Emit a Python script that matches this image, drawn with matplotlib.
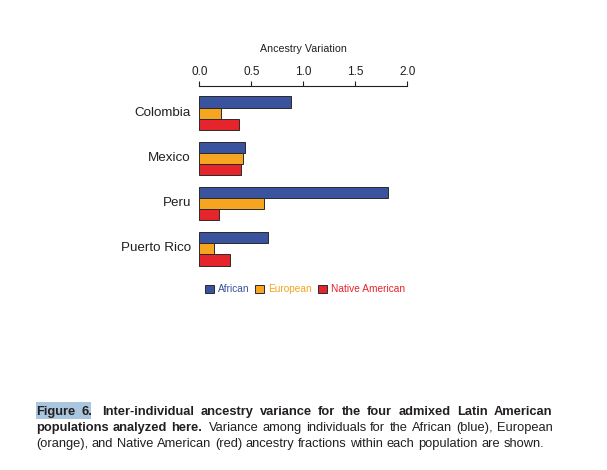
import numpy as np
import matplotlib
matplotlib.use('Agg')
from matplotlib import pyplot as plt
from matplotlib.patches import Rectangle, Patch

plt.rcParams['font.family'] = ['Liberation Sans', 'DejaVu Sans']

populations = ['Colombia', 'Mexico', 'Peru', 'Puerto Rico']
african = [0.88, 0.44, 1.81, 0.66]
european = [0.21, 0.42, 0.62, 0.14]
native = [0.385, 0.40, 0.19, 0.295]
series_names = ['African', 'European', 'Native American']
colors = ['#3a539e', '#f5a51f', '#e5242b']
xticks = [0.0, 0.5, 1.0, 1.5, 2.0]

W, H = 607, 470
fig = plt.figure(figsize=(W / 100, H / 100), dpi=100)

# axes placed in pixel terms
left, right, top, bottom = 199.3, 407.3, 85.7, 268.0
ax = fig.add_axes([left / W, 1 - bottom / H, (right - left) / W, (bottom - top) / H])

ypos = np.arange(len(populations))
bh = 0.25
for k, vals in enumerate([african, european, native]):
    ax.barh(ypos + (k - 1) * bh, vals, height=bh, color=colors[k],
            edgecolor='#2a2a2a', linewidth=0.7, label=series_names[k])

ax.set_xlim(0, 2.0)
ax.set_ylim(3.43, -0.613)
ax.set_yticks(ypos - 0.05)
ax.set_yticklabels(populations, fontsize=9.6, color='#231f20')
ax.tick_params(axis='y', length=0, pad=6)
ax.xaxis.tick_top()
ax.xaxis.set_label_position('top')
ax.set_xticks(xticks)
ax.set_xticklabels(['%.1f' % t for t in xticks], fontsize=8.5, color='#231f20')
ax.tick_params(axis='x', direction='out', length=3.6, width=0.8, pad=2.2, color='#231f20')
ax.set_xlabel('Ancestry Variation', fontsize=7.7, labelpad=10, color='#231f20')
for s in ['left', 'right', 'bottom']:
    ax.spines[s].set_visible(False)
ax.spines['top'].set_linewidth(0.8)
ax.spines['top'].set_color('#231f20')

handles = [Patch(facecolor=c, edgecolor='#2a2a2a', linewidth=0.7) for c in colors]
leg = fig.legend(handles, series_names, loc='center left',
                 bbox_to_anchor=(205 / W, 1 - 289.5 / H), ncol=3, frameon=False,
                 fontsize=7.3, handlelength=0.85, handleheight=0.85,
                 handletextpad=0.4, columnspacing=0.6, borderpad=0, borderaxespad=0)
for txt, c in zip(leg.get_texts(), colors):
    txt.set_color(c)

# caption
fig.patches.append(Rectangle((36 / W, 1 - 418.7 / H), 55 / W, 16.4 / H,
                             transform=fig.transFigure, facecolor='#a9c6de',
                             edgecolor='none', zorder=0))

cap_size = 9.3
lines = [
    ([('Figure', 'bold'), ('6.', 'bold'), ('Inter-individual', 'bold'), ('ancestry', 'bold'),
      ('variance', 'bold'), ('for', 'bold'), ('the', 'bold'), ('four', 'bold'),
      ('admixed', 'bold'), ('Latin', 'bold'), ('American', 'bold')], True, 414.7),
    ([('populations', 'bold'), ('analyzed', 'bold'), ('here.', 'bold'), ('Variance', 'normal'),
      ('among', 'normal'), ('individuals', 'normal'), ('for', 'normal'), ('the', 'normal'),
      ('African', 'normal'), ('(blue),', 'normal'), ('European', 'normal')], True, 430.7),
    ([('(orange),', 'normal'), ('and', 'normal'), ('Native', 'normal'), ('American', 'normal'),
      ('(red)', 'normal'), ('ancestry', 'normal'), ('fractions', 'normal'), ('within', 'normal'),
      ('each', 'normal'), ('population', 'normal'), ('are', 'normal'), ('shown.', 'normal')], False, 446.7),
]
x0, x1 = 36.0, 552.3
renderer = fig.canvas.get_renderer()
for words, justify, base in lines:
    arts = []
    for w, wt in words:
        t = fig.text(0, 1 - base / H, w, fontsize=cap_size, fontweight=wt,
                     color='#231f20', va='baseline', ha='left')
        arts.append(t)
    widths = [a.get_window_extent(renderer).width for a in arts]
    # wider gap after sentence ends
    weights = [1.6 if w.endswith('.') else 1.0 for w, _ in words[:-1]]
    if justify:
        unit = (x1 - x0 - sum(widths)) / sum(weights)
    else:
        sp = fig.text(0, 0, 'a a', fontsize=cap_size)
        sp2 = fig.text(0, 0, 'aa', fontsize=cap_size)
        unit = sp.get_window_extent(renderer).width - sp2.get_window_extent(renderer).width
        sp.remove()
        sp2.remove()
    x = x0
    for i, a in enumerate(arts):
        a.set_x(x / W)
        x += widths[i]
        if i < len(weights):
            x += unit * weights[i]

fig.savefig('out.png', dpi=100)
